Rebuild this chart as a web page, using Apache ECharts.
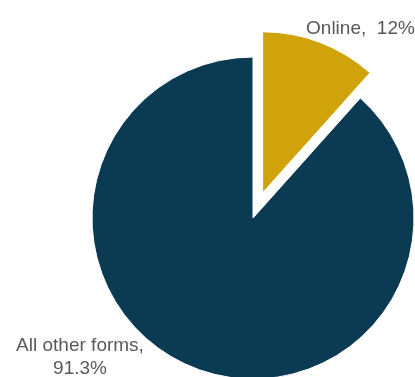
<!DOCTYPE html>
<html>
<head>
<meta charset="utf-8">
<style>
  html, body { margin: 0; padding: 0; background: #ffffff; }
  #chart { width: 415px; height: 377px; }
</style>
<script src="https://cdn.jsdelivr.net/npm/echarts@6/dist/echarts.min.js"></script>
</head>
<body>
<div id="chart"></div>
<script>
// Share of sales by channel
const categories = ['Online', 'All other forms'];
const shares = [12, 91.3];
const sliceColors = ['#D1A30B', '#0B3A53'];

const chart = echarts.init(document.getElementById('chart'), null, { renderer: 'canvas' });

// label anchors (centre of each label block)
const labelSpots = [
  { x: 358, y: 20, align: 'center', verticalAlign: 'middle' },
  { x: 80, y: 357, align: 'center', verticalAlign: 'middle' }
];

chart.setOption({
  animation: false,
  series: [{
    type: 'pie',
    center: [253, 218],
    radius: 161,
    startAngle: 90,
    clockwise: true,
    selectedMode: 'single',
    selectedOffset: 27,
    avoidLabelOverlap: false,
    itemStyle: { borderColor: '#ffffff', borderWidth: 1 },
    label: {
      show: true,
      position: 'outside',
      color: '#595959',
      fontFamily: 'Liberation Sans, Arial, sans-serif',
      fontSize: 19,
      lineHeight: 23
    },
    labelLine: { show: false },
    emphasis: { disabled: true },
    labelLayout: function (p) {
      return labelSpots[p.dataIndex];
    },
    data: categories.map(function (name, i) {
      return {
        name: name,
        value: shares[i],
        selected: i === 0,
        itemStyle: { color: sliceColors[i] },
        label: {
          formatter: i === 0 ? '{b},  {c}%' : '{b},\n{c}%'
        }
      };
    })
  }]
});
</script>
</body>
</html>
